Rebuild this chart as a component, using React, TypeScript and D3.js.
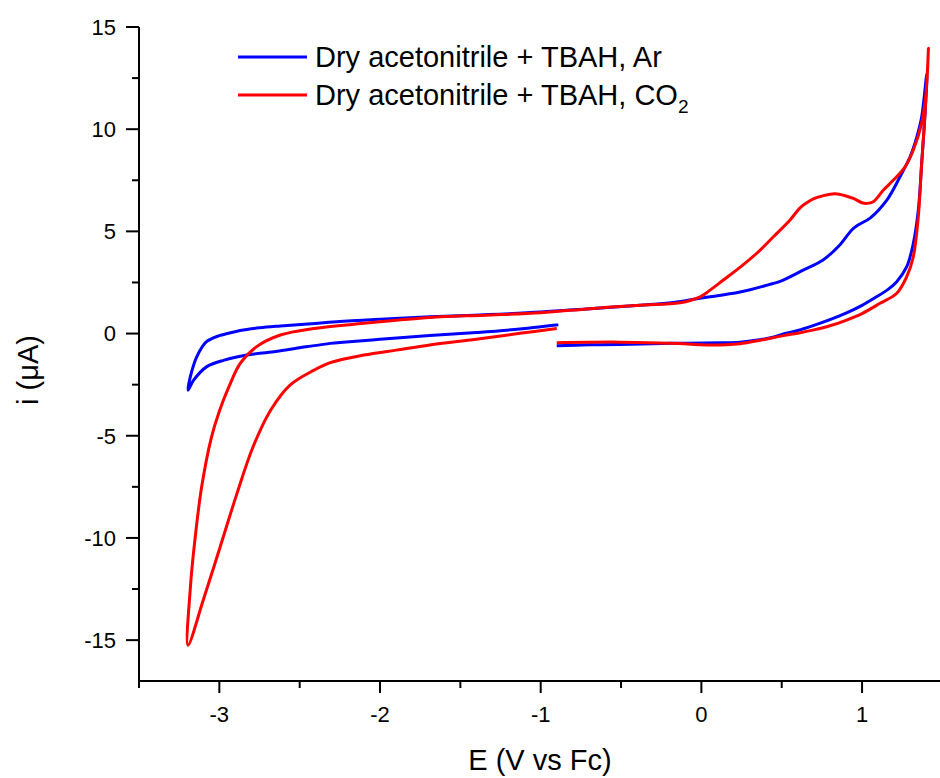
import React from "react";
import * as d3 from "d3";

// Ar series (sweep order)
const arE = [
  -0.90, -0.70, -0.51, -0.19, 0.12, 0.24, 0.35, 0.446, 0.52, 0.60, 0.70, 0.80, 0.90, 1.00, 1.09, 1.16, 1.216, 1.278, 1.319, 1.35, 1.371, 1.392, 1.403,
  1.371, 1.340, 1.299, 1.236, 1.154, 1.05, 0.975, 0.936, 0.863, 0.757, 0.633, 0.49, 0.446, 0.241, 0.0, -0.176, -0.381, -0.692, -1.0, -1.35, -1.69, -2.0, -2.27, -2.45, -2.62, -2.75, -2.87, -2.95, -3.0, -3.08, -3.14, -3.18, -3.195,
  -3.16, -3.08, -2.97, -2.83, -2.66, -2.46, -2.31, -2.23, -2.0, -1.69, -1.4, -1.13, -0.89,
];
const arI = [
  -0.60, -0.55, -0.53, -0.48, -0.45, -0.42, -0.32, -0.18, 0.0, 0.15, 0.4, 0.68, 1.0, 1.38, 1.8, 2.15, 2.54, 3.27, 4.41, 6.04, 8.33, 10.78, 12.7,
  10.6, 9.6, 8.65, 7.67, 6.53, 5.65, 5.31, 5.07, 4.35, 3.6, 3.1, 2.55, 2.45, 2.03, 1.74, 1.52, 1.39, 1.22, 1.05, 0.92, 0.82, 0.7, 0.58, 0.47, 0.37, 0.28, 0.15, 0.0, -0.1, -0.4, -1.13, -2.1, -2.77,
  -2.28, -1.63, -1.30, -1.05, -0.89, -0.65, -0.48, -0.42, -0.28, -0.1, 0.05, 0.22, 0.43,
];

// CO2 series (sweep order)
const co2E = [
  -0.90, -0.51, -0.19, 0.12, 0.24, 0.35, 0.51, 0.60, 0.70, 0.80, 0.90, 1.00, 1.112, 1.216, 1.278, 1.319, 1.35, 1.371, 1.392, 1.409, 1.413,
  1.405, 1.396, 1.371, 1.319, 1.268, 1.195, 1.133, 1.07, 1.03, 1.0, 0.95, 0.905, 0.832, 0.76, 0.70, 0.656, 0.614, 0.552, 0.45, 0.345, 0.25, 0.137, 0.05, -0.008, -0.133, -0.381, -0.692, -1.0, -1.35, -1.69, -2.10, -2.41, -2.62, -2.77, -2.87, -2.94, -3.0, -3.05, -3.11, -3.15, -3.18, -3.195,
  -3.10, -2.995, -2.89, -2.79, -2.68, -2.56, -2.41, -2.31, -2.10, -1.90, -1.69, -1.4, -1.13, -0.90,
];
const co2I = [
  -0.45, -0.42, -0.48, -0.56, -0.5, -0.35, -0.1, 0.02, 0.18, 0.38, 0.65, 0.98, 1.48, 1.97, 2.78, 3.76, 5.72, 8.33, 10.78, 13.2, 13.96,
  12.5, 11.6, 10.3, 8.98, 8.16, 7.51, 7.02, 6.45, 6.37, 6.4, 6.6, 6.72, 6.84, 6.75, 6.6, 6.4, 6.15, 5.56, 4.75, 3.93, 3.3, 2.62, 2.1, 1.8, 1.51, 1.39, 1.22, 1.02, 0.9, 0.79, 0.5, 0.25, -0.07, -0.65, -1.46, -2.6, -3.8, -5.1, -7.5, -9.95, -12.4, -15.25,
  -13.04, -10.44, -7.82, -5.54, -3.74, -2.52, -1.79, -1.42, -1.05, -0.81, -0.56, -0.28, 0.01, 0.25,
];

const xMajor = [-3, -2, -1, 0, 1];
const xMinor = [-3.5, -2.5, -1.5, -0.5, 0.5];
const yMajor = [15, 10, 5, 0, -5, -10, -15];
const yMinor = [12.5, 7.5, 2.5, -2.5, -7.5, -12.5];

const legendLabels = ["Dry acetonitrile + TBAH, Ar", "Dry acetonitrile + TBAH, CO"];
const colors = ["#0000ff", "#ff0000"];

const W = 940;
const H = 778;
const left = 139;
const right = 942.4;
const top = 27;
const bottom = 681;
const font = "'Liberation Sans', Arial, sans-serif";

export default function App() {
  const x = d3.scaleLinear().domain([-3.5, 1.5]).range([left, right]);
  const y = d3.scaleLinear().domain([-17, 15]).range([bottom, top]);
  const line = d3
    .line<[number, number]>()
    .x((d) => x(d[0]))
    .y((d) => y(d[1]))
    .curve(d3.curveCatmullRom.alpha(0.5));
  const series = [
    arE.map((e, i) => [e, arI[i]] as [number, number]),
    co2E.map((e, i) => [e, co2I[i]] as [number, number]),
  ];

  return (
    <svg
      width={W}
      height={H}
      style={{ position: "absolute", left: 0, top: 0, background: "#fff" }}
      fontFamily={font}
    >
      <rect x={0} y={0} width={W} height={H} fill="#fff" />
      {series.map((s, k) => (
        <path key={k} d={line(s) || ""} fill="none" stroke={colors[k]} strokeWidth={3} strokeLinejoin="round" />
      ))}
      {/* axes */}
      <line x1={left} x2={left} y1={top} y2={bottom + 1} stroke="#000" strokeWidth={2} />
      <line x1={left - 1} x2={W} y1={bottom} y2={bottom} stroke="#000" strokeWidth={2} />
      {xMajor.map((v) => (
        <g key={"xm" + v}>
          <line x1={x(v)} x2={x(v)} y1={bottom} y2={bottom + 12} stroke="#000" strokeWidth={2} />
          <text x={x(v)} y={722} fontSize={22} textAnchor="middle">
            {v}
          </text>
        </g>
      ))}
      {xMinor.map((v) => (
        <line key={"xn" + v} x1={x(v)} x2={x(v)} y1={bottom} y2={bottom + 7} stroke="#000" strokeWidth={2} />
      ))}
      {yMajor.map((v) => (
        <g key={"ym" + v}>
          <line x1={left - 13} x2={left} y1={y(v)} y2={y(v)} stroke="#000" strokeWidth={2} />
          <text x={116} y={y(v)} dy="0.36em" fontSize={22} textAnchor="end">
            {v}
          </text>
        </g>
      ))}
      {yMinor.map((v) => (
        <line key={"yn" + v} x1={left - 7} x2={left} y1={y(v)} y2={y(v)} stroke="#000" strokeWidth={2} />
      ))}
      <text x={540} y={770} fontSize={29} textAnchor="middle">
        E (V vs Fc)
      </text>
      <text transform="translate(38,370) rotate(-90)" fontSize={29} textAnchor="middle">
        i (μA)
      </text>
      {/* legend */}
      {legendLabels.map((t, k) => (
        <g key={"lg" + k}>
          <line x1={238} x2={307} y1={57 + k * 38} y2={57 + k * 38} stroke={colors[k]} strokeWidth={3} />
          <text x={315} y={67 + k * 38} fontSize={29}>
            {t}
            {k === 1 ? (
              <tspan fontSize={19} dy={8}>
                2
              </tspan>
            ) : null}
          </text>
        </g>
      ))}
    </svg>
  );
}
